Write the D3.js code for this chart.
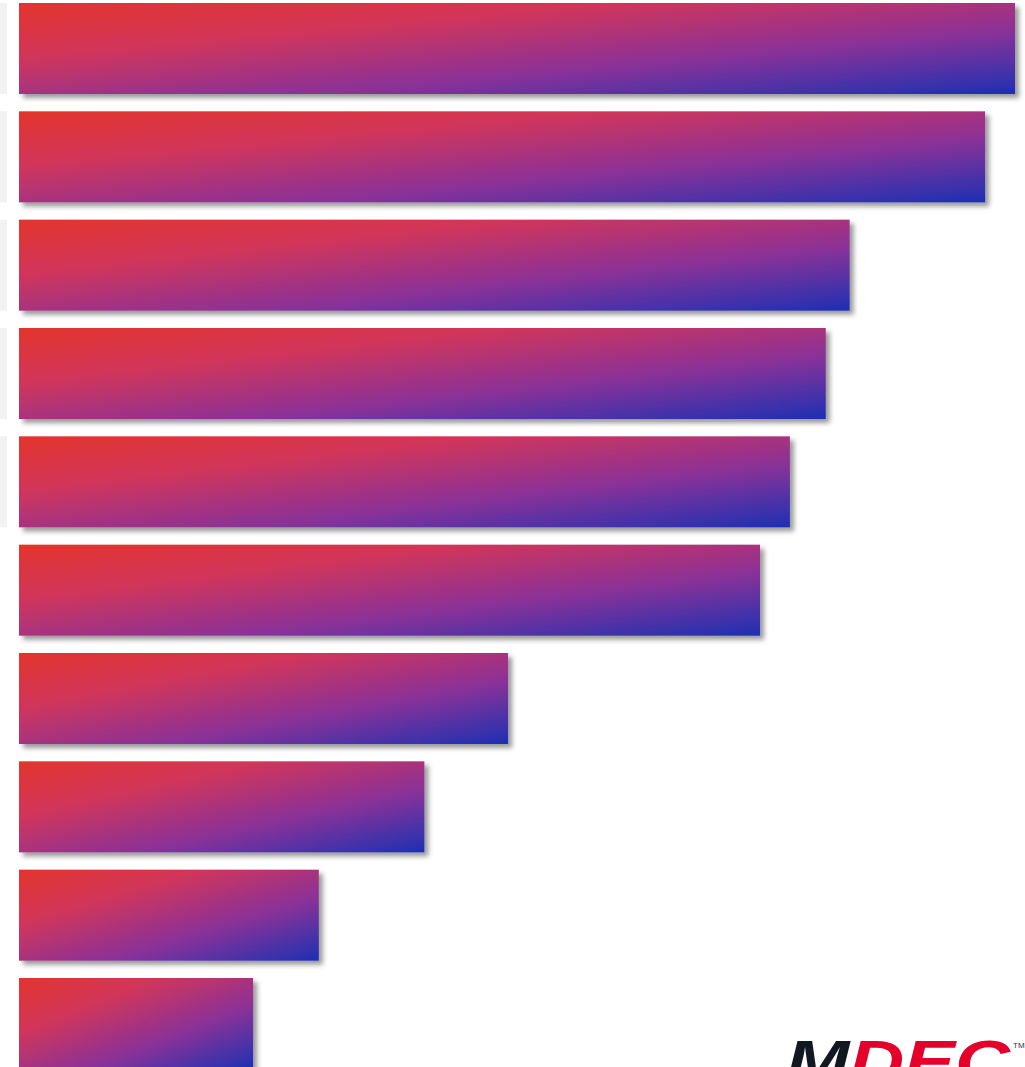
<!DOCTYPE html>
<html>
<head>
<meta charset="utf-8">
<script src="https://cdn.jsdelivr.net/npm/d3@7"></script>
<style>
  html, body { margin: 0; padding: 0; background: #fff; overflow: hidden; }
  #main { width: 1025px; height: 1067px; }
</style>
</head>
<body>
<div id="main"></div>
<script>
// bar values, longest first (labels are cropped off in the source)
var categories = ['c1', 'c2', 'c3', 'c4', 'c5', 'c6', 'c7', 'c8', 'c9', 'c10'];
var values = [100, 97, 83.4, 81, 77.4, 74.4, 49.1, 40.7, 30.1, 23.5];
var shadedRows = ['c1', 'c2', 'c3', 'c4', 'c5'];

var width = 1025, height = 1067;

var svg = d3.select('#main').append('svg')
    .attr('width', width).attr('height', height);

var defs = svg.append('defs');
var grad = defs.append('linearGradient')
    .attr('id', 'barGrad')
    .attr('x1', 0).attr('y1', 0).attr('x2', 1).attr('y2', 1);
grad.append('stop').attr('offset', '0%').attr('stop-color', '#e3352c');
grad.append('stop').attr('offset', '30%').attr('stop-color', '#d1355a');
grad.append('stop').attr('offset', '65%').attr('stop-color', '#8a3298');
grad.append('stop').attr('offset', '100%').attr('stop-color', '#1d2fb3');

var shadow = defs.append('filter')
    .attr('id', 'shadow')
    .attr('x', '-5%').attr('y', '-10%').attr('width', '115%').attr('height', '130%');
shadow.append('feDropShadow')
    .attr('dx', 4).attr('dy', 4).attr('stdDeviation', 2.5)
    .attr('flood-color', '#000').attr('flood-opacity', 0.4);

var x = d3.scaleLinear().domain([0, 100]).range([19, 1015]);
var y = d3.scaleBand().domain(categories).range([3, 1069]).paddingInner(0.16).paddingOuter(0);

// light grey label panels at the left edge
svg.selectAll('rect.panel')
    .data(shadedRows)
    .enter().append('rect')
    .attr('class', 'panel')
    .attr('x', 0)
    .attr('y', function(d) { return y(d); })
    .attr('width', 7)
    .attr('height', y.bandwidth())
    .attr('fill', '#f2f2f2');

svg.selectAll('rect.bar')
    .data(values)
    .enter().append('rect')
    .attr('class', 'bar')
    .attr('x', x(0))
    .attr('y', function(d, i) { return y(categories[i]); })
    .attr('width', function(d) { return x(d) - x(0); })
    .attr('height', y.bandwidth())
    .attr('fill', 'url(#barGrad)')
    .attr('filter', 'url(#shadow)');

// MDEC logo, cut off by the bottom edge as in the source
var logo = svg.append('text')
    .attr('x', 786).attr('y', 1082)
    .attr('font-family', 'Liberation Sans, Arial, sans-serif')
    .attr('font-weight', 'bold')
    .attr('font-style', 'italic')
    .attr('font-size', 60)
    .attr('textLength', 224)
    .attr('lengthAdjust', 'spacingAndGlyphs');
logo.append('tspan').attr('fill', '#111820').text('M');
logo.append('tspan').attr('fill', '#e4002b').text('DEC');

svg.append('text')
    .attr('x', 1013).attr('y', 1048)
    .attr('font-family', 'Liberation Sans, Arial, sans-serif')
    .attr('font-size', 8)
    .attr('fill', '#333')
    .text('TM');
</script>
</body>
</html>
